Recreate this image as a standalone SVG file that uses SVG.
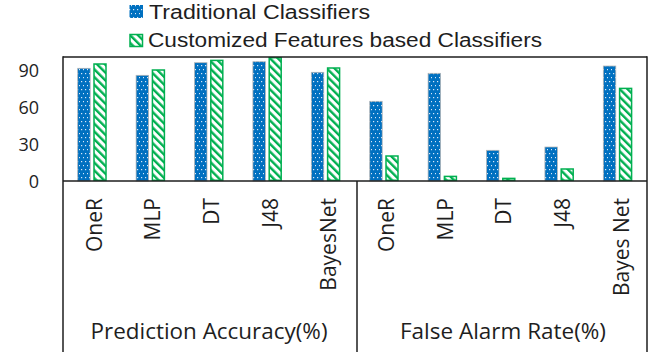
<svg xmlns="http://www.w3.org/2000/svg" width="665" height="354" viewBox="0 0 665 354">
<style>
text{font-family:"Open Sans","Liberation Sans",sans-serif;fill:#1e1e1e}
.ax{stroke:#1e1e1e;stroke-width:1.5;fill:none}
.b{fill:url(#dots);stroke:#b4b4b4;stroke-width:0.75}
.g{fill:url(#diag);stroke:#00b050;stroke-width:1.5}
.yl{font-size:18px;text-anchor:end}
.cl{font-size:21px;text-anchor:end}
.tl{font-size:22px;text-anchor:middle}
.lg{font-size:20px;font-family:"Liberation Sans","Open Sans",sans-serif}
</style>
<defs>
<pattern id="dots" width="4" height="8" patternUnits="userSpaceOnUse">
<rect width="4" height="8" fill="#0070c0"/>
<rect x="1" y="1" width="1.2" height="1.2" fill="#d9e8f7"/>
<rect x="3" y="5" width="1.2" height="1.2" fill="#d9e8f7"/>
</pattern>
<pattern id="diag" width="5.5" height="5.5" patternUnits="userSpaceOnUse" patternTransform="rotate(-45)">
<rect width="5.5" height="5.5" fill="#fff"/>
<rect width="2.4" height="5.5" fill="#00b050"/>
</pattern>
</defs>

<g id="legend">
<rect x="129.5" y="5" width="13.5" height="13" fill="url(#dots)"/>
<text class="lg" x="149" y="18.5" textLength="221" lengthAdjust="spacingAndGlyphs">Traditional Classifiers</text>
<rect x="130" y="34.5" width="12.5" height="12" class="g"/>
<text class="lg" x="148" y="47" textLength="394" lengthAdjust="spacingAndGlyphs">Customized Features based Classifiers</text>
</g>

<g id="y-axis">
<text class="yl" x="39" y="76.5">90</text>
<text class="yl" x="39" y="113.5">60</text>
<text class="yl" x="39" y="150.5">30</text>
<text class="yl" x="39" y="188">0</text>
</g>

<g id="bars-traditional">
<rect class="b" x="77.7" y="68.3" width="12.5" height="112.7"/>
<rect class="b" x="136.1" y="75.3" width="12.5" height="105.7"/>
<rect class="b" x="194.5" y="62.7" width="12.5" height="118.3"/>
<rect class="b" x="252.9" y="61.7" width="12.5" height="119.3"/>
<rect class="b" x="311.3" y="72.3" width="12.5" height="108.7"/>
<rect class="b" x="369.7" y="101.3" width="12.5" height="79.7"/>
<rect class="b" x="428.1" y="73.3" width="12.5" height="107.7"/>
<rect class="b" x="486.5" y="150.3" width="12.5" height="30.7"/>
<rect class="b" x="544.9" y="147" width="12.5" height="34"/>
<rect class="b" x="603.3" y="66" width="12.5" height="115"/>
</g>

<g id="bars-customized">
<rect class="g" x="94" y="64" width="12" height="116.3"/>
<rect class="g" x="152.4" y="70" width="12" height="110.3"/>
<rect class="g" x="210.8" y="60.4" width="12" height="119.9"/>
<rect class="g" x="269.2" y="57.7" width="12" height="122.6"/>
<rect class="g" x="327.6" y="68" width="12" height="112.3"/>
<rect class="g" x="386" y="156" width="12" height="24.3"/>
<rect class="g" x="444.4" y="176.4" width="12" height="3.9"/>
<rect class="g" x="502.8" y="178.4" width="12" height="1.9"/>
<rect class="g" x="561.2" y="169" width="12" height="11.3"/>
<rect class="g" x="619.6" y="88.4" width="12" height="91.9"/>
</g>

<g id="axes">
<line class="ax" x1="63" y1="57" x2="647" y2="57"/>
<line class="ax" x1="63" y1="56.3" x2="63" y2="352"/>
<line class="ax" x1="647" y1="56.3" x2="647" y2="352"/>
<line class="ax" x1="63" y1="181" x2="647" y2="181"/>
<line class="ax" x1="357" y1="181" x2="357" y2="352"/>
</g>

<g id="category-labels">
<text class="cl" transform="translate(102,198) rotate(-90)">OneR</text>
<text class="cl" transform="translate(160,198) rotate(-90)">MLP</text>
<text class="cl" transform="translate(219,198) rotate(-90)">DT</text>
<text class="cl" transform="translate(277.5,198) rotate(-90)">J48</text>
<text class="cl" transform="translate(336,198) rotate(-90)">BayesNet</text>
<text class="cl" transform="translate(394,198) rotate(-90)">OneR</text>
<text class="cl" transform="translate(453,198) rotate(-90)">MLP</text>
<text class="cl" transform="translate(511,198) rotate(-90)">DT</text>
<text class="cl" transform="translate(569.5,198) rotate(-90)">J48</text>
<text class="cl" transform="translate(629,198) rotate(-90)">Bayes Net</text>
</g>

<g id="group-labels">
<text class="tl" x="209" y="338.5" textLength="237" lengthAdjust="spacingAndGlyphs">Prediction Accuracy(%)</text>
<text class="tl" x="503" y="338.5" textLength="206" lengthAdjust="spacingAndGlyphs">False Alarm Rate(%)</text>
</g>
</svg>
